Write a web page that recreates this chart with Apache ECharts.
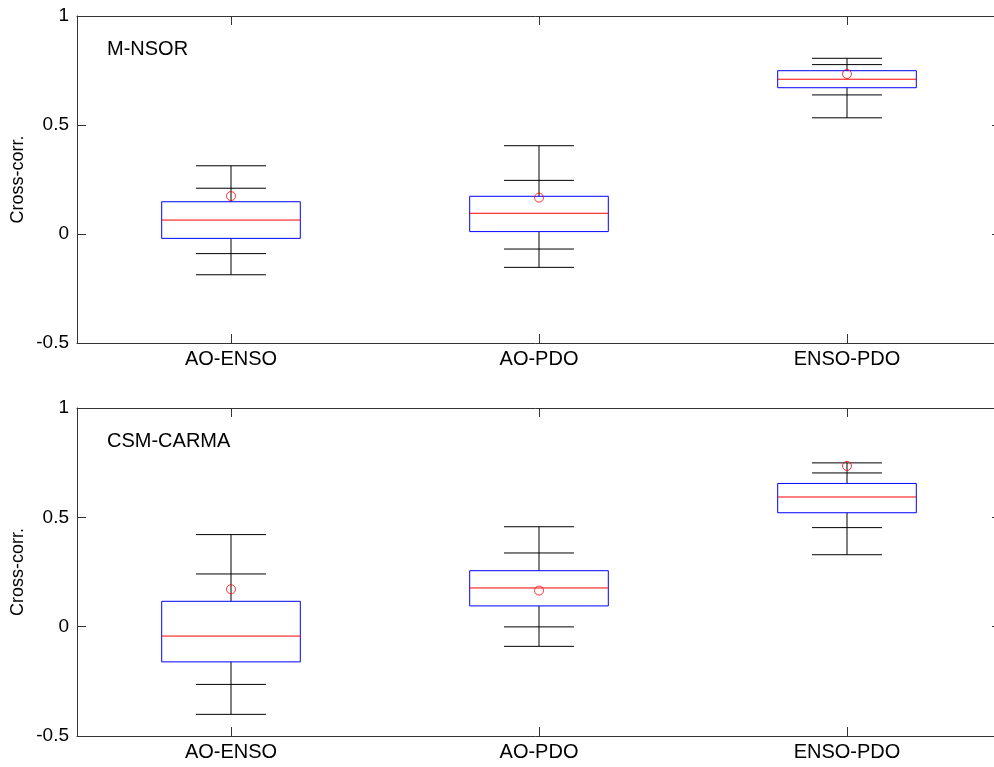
<!DOCTYPE html>
<html>
<head>
<meta charset="utf-8">
<script src="https://cdn.jsdelivr.net/npm/echarts@6/dist/echarts.min.js"></script>
<style>
    html, body { margin: 0; padding: 0; background: #fff; }
    #chart { width: 994px; height: 767px; }
</style>
</head>
<body>
<div id="chart"></div>
<script>
const categories = ['AO-ENSO', 'AO-PDO', 'ENSO-PDO']
const yTicks = [-0.5, 0, 0.5, 1]

// M-NSOR (top panel)
const mnsorOuterLow = [-0.187, -0.153, 0.533]
const mnsorInnerLow = [-0.090, -0.069, 0.638]
const mnsorQ1 = [-0.020, 0.011, 0.671]
const mnsorMedian = [0.064, 0.095, 0.710]
const mnsorQ3 = [0.148, 0.173, 0.749]
const mnsorInnerHigh = [0.210, 0.246, 0.777]
const mnsorOuterHigh = [0.313, 0.405, 0.806]
const mnsorObserved = [0.174, 0.167, 0.734]

// CSM-CARMA (bottom panel)
const carmaOuterLow = [-0.401, -0.090, 0.329]
const carmaInnerLow = [-0.264, -0.001, 0.453]
const carmaQ1 = [-0.161, 0.095, 0.521]
const carmaMedian = [-0.043, 0.177, 0.593]
const carmaQ3 = [0.116, 0.256, 0.655]
const carmaInnerHigh = [0.241, 0.337, 0.703]
const carmaOuterHigh = [0.421, 0.457, 0.749]
const carmaObserved = [0.171, 0.165, 0.735]

const FONT = "'Liberation Sans', Arial, sans-serif"

// 拼成 custom series 用的行: [idx, outerLow, innerLow, q1, median, q3, innerHigh, outerHigh]
const boxRows = (ol, il, q1, md, q3, ih, oh) =>
    categories.map((c, i) => [i, ol[i], il[i], q1[i], md[i], q3[i], ih[i], oh[i]])

const renderBox = (params, api) => {
    const idx = api.value(0)
    const band = api.size([1, 0])[0]
    const boxW = band * 0.45
    const capW = band * 0.227
    const pt = (v) => api.coord([idx, v])
    const x = pt(0)[0]
    const yOL = pt(api.value(1))[1]
    const yIL = pt(api.value(2))[1]
    const yQ1 = pt(api.value(3))[1]
    const yMd = pt(api.value(4))[1]
    const yQ3 = pt(api.value(5))[1]
    const yIH = pt(api.value(6))[1]
    const yOH = pt(api.value(7))[1]
    const black = { stroke: '#000', lineWidth: 1 }
    const hline = (y, w, style) => ({
        type: 'line',
        shape: { x1: x - w / 2, y1: y, x2: x + w / 2, y2: y },
        style: style
    })
    return {
        type: 'group',
        children: [
            { type: 'line', shape: { x1: x, y1: yQ3, x2: x, y2: yOH }, style: black },
            { type: 'line', shape: { x1: x, y1: yQ1, x2: x, y2: yOL }, style: black },
            hline(yOH, capW, black),
            hline(yIH, capW, black),
            hline(yIL, capW, black),
            hline(yOL, capW, black),
            {
                type: 'rect',
                shape: { x: x - boxW / 2, y: yQ3, width: boxW, height: yQ1 - yQ3 },
                style: { fill: 'none', stroke: '#0000ff', lineWidth: 1 }
            },
            hline(yMd, boxW, { stroke: '#ff0000', lineWidth: 1 })
        ]
    }
}

const gridTops = [16, 408]
const gridHeights = [327, 328]

const grids = gridTops.map((t, i) => ({
    left: 77, top: t, width: 924, height: gridHeights[i],
    containLabel: false, outerBoundsMode: 'none'
}))

const frameLine = { show: true, onZero: false, lineStyle: { color: '#333', width: 1 } }

const xAxes = []
const yAxes = []
gridTops.forEach((t, g) => {
    // bottom axis with labels
    xAxes.push({
        type: 'category', gridIndex: g, data: categories, position: 'bottom',
        axisLine: frameLine,
        axisTick: { show: true, inside: true, alignWithLabel: true, length: 9, lineStyle: { color: '#333' } },
        axisLabel: { color: '#000', fontSize: 20, fontFamily: FONT, margin: 6 },
        splitLine: { show: false }
    })
    // top frame line with ticks
    xAxes.push({
        type: 'category', gridIndex: g, data: categories, position: 'top',
        axisLine: frameLine,
        axisTick: { show: true, inside: true, alignWithLabel: true, length: 9, lineStyle: { color: '#333' } },
        axisLabel: { show: false },
        splitLine: { show: false }
    })
    yAxes.push({
        type: 'value', gridIndex: g, min: -0.5, max: 1, interval: 0.5, position: 'left',
        name: 'Cross-corr.', nameLocation: 'middle', nameRotate: 90, nameGap: 50,
        nameMoveOverlap: false,
        nameTextStyle: { color: '#000', fontSize: 18, fontFamily: FONT },
        axisLine: frameLine,
        axisTick: { show: true, inside: true, length: 9, lineStyle: { color: '#333' } },
        axisLabel: {
            color: '#000', fontSize: 19, fontFamily: FONT, margin: 8,
            formatter: (v) => yTicks.includes(v) ? String(v) : ''
        },
        splitLine: { show: false }
    })
    yAxes.push({
        type: 'value', gridIndex: g, min: -0.5, max: 1, interval: 0.5, position: 'right',
        axisLine: frameLine,
        axisTick: { show: true, inside: true, length: 9, lineStyle: { color: '#333' } },
        axisLabel: { show: false },
        splitLine: { show: false }
    })
})

const panelData = [
    {
        rows: boxRows(mnsorOuterLow, mnsorInnerLow, mnsorQ1, mnsorMedian, mnsorQ3, mnsorInnerHigh, mnsorOuterHigh),
        observed: mnsorObserved
    },
    {
        rows: boxRows(carmaOuterLow, carmaInnerLow, carmaQ1, carmaMedian, carmaQ3, carmaInnerHigh, carmaOuterHigh),
        observed: carmaObserved
    }
]

const series = []
panelData.forEach((p, g) => {
    series.push({
        type: 'custom',
        xAxisIndex: g * 2,
        yAxisIndex: g * 2,
        renderItem: renderBox,
        encode: { x: 0, y: [1, 2, 3, 4, 5, 6, 7] },
        data: p.rows,
        silent: true,
        z: 2
    })
    series.push({
        type: 'scatter',
        xAxisIndex: g * 2,
        yAxisIndex: g * 2,
        symbol: 'circle',
        symbolSize: 9,
        itemStyle: { color: 'rgba(0,0,0,0)', borderColor: '#ff0000', borderWidth: 1 },
        data: p.observed.map((v, i) => [i, v]),
        silent: true,
        z: 3
    })
})

const myChart = echarts.init(document.getElementById('chart'), null, { renderer: 'canvas' })
const option = {
    backgroundColor: '#fff',
    animation: false,
    title: [
        { text: 'M-NSOR', left: 107, top: 39, padding: 0, textStyle: { color: '#000', fontSize: 20, fontWeight: 'normal', fontFamily: FONT } },
        { text: 'CSM-CARMA', left: 107, top: 431, padding: 0, textStyle: { color: '#000', fontSize: 20, fontWeight: 'normal', fontFamily: FONT } }
    ],
    grid: grids,
    xAxis: xAxes,
    yAxis: yAxes,
    series: series
}
option && myChart.setOption(option)
</script>
</body>
</html>
